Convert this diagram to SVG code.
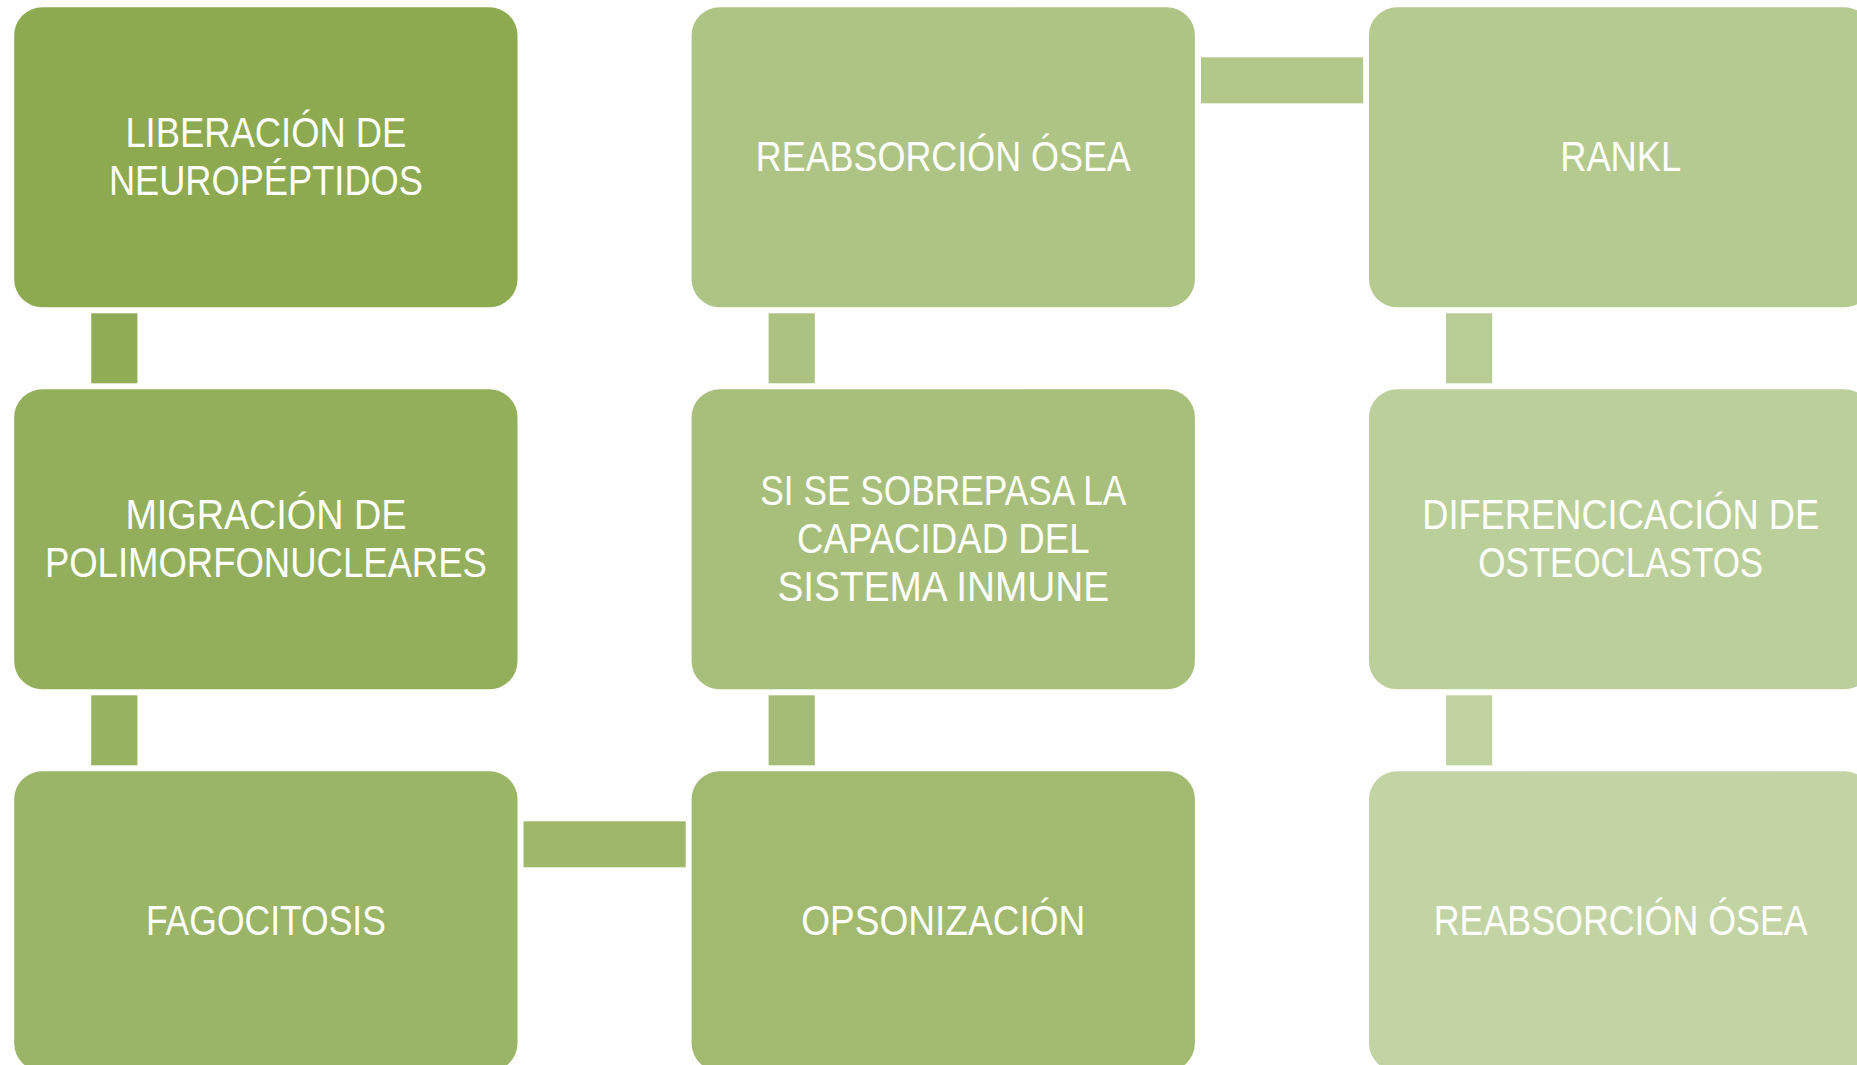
<svg xmlns="http://www.w3.org/2000/svg" width="1857" height="1065" viewBox="0 0 1857 1065">
<style>
.box{stroke:none}
.t{font-family:"Liberation Sans",Arial,sans-serif;font-size:42px;fill:#ffffff;text-anchor:middle}
</style>
<rect width="1857" height="1065" fill="#ffffff"/>
<g id="connectors">
<rect x="91.2" y="313.3" width="46.2" height="70" fill="#90AD56"/>
<rect x="91.2" y="695.3" width="46.2" height="70" fill="#97B261"/>
<rect x="523.5" y="821.3" width="162.2" height="46" fill="#9EB76B"/>
<rect x="768.6" y="695.3" width="46.2" height="70" fill="#A4BC75"/>
<rect x="768.6" y="313.3" width="46.2" height="70" fill="#ABC280"/>
<rect x="1201" y="57.3" width="162.2" height="46" fill="#B2C78A"/>
<rect x="1446" y="313.3" width="46.2" height="70" fill="#B8CC95"/>
<rect x="1446" y="695.3" width="46.2" height="70" fill="#BFD29F"/>
</g>
<g id="n1">
<rect class="box" x="14.2" y="7.3" width="503.3" height="300" rx="28" fill="#8DAA51"/>
<text class="t" x="265.9" y="146.7" textLength="281" lengthAdjust="spacingAndGlyphs">LIBERACIÓN DE</text>
<text class="t" x="265.9" y="195" textLength="314" lengthAdjust="spacingAndGlyphs">NEUROPÉPTIDOS</text>
</g>
<g id="n2">
<rect class="box" x="14.2" y="389.3" width="503.3" height="300" rx="28" fill="#94AF5B"/>
<text class="t" x="265.9" y="528.7" textLength="281" lengthAdjust="spacingAndGlyphs">MIGRACIÓN DE</text>
<text class="t" x="265.9" y="577" textLength="442" lengthAdjust="spacingAndGlyphs">POLIMORFONUCLEARES</text>
</g>
<g id="n3">
<rect class="box" x="14.2" y="771.3" width="503.3" height="300" rx="28" fill="#9AB566"/>
<text class="t" x="265.9" y="935.3" textLength="240" lengthAdjust="spacingAndGlyphs">FAGOCITOSIS</text>
</g>
<g id="n4">
<rect class="box" x="691.6" y="771.3" width="503.3" height="300" rx="28" fill="#A1BA70"/>
<text class="t" x="943.3" y="935.3" textLength="284" lengthAdjust="spacingAndGlyphs">OPSONIZACIÓN</text>
</g>
<g id="n5">
<rect class="box" x="691.6" y="389.3" width="503.3" height="300" rx="28" fill="#A8BF7B"/>
<text class="t" x="943.3" y="504.7" textLength="366" lengthAdjust="spacingAndGlyphs">SI SE SOBREPASA LA</text>
<text class="t" x="943.3" y="553" textLength="292.5" lengthAdjust="spacingAndGlyphs">CAPACIDAD DEL</text>
<text class="t" x="943.3" y="601.3" textLength="331.6" lengthAdjust="spacingAndGlyphs">SISTEMA INMUNE</text>
</g>
<g id="n6">
<rect class="box" x="691.6" y="7.3" width="503.3" height="300" rx="28" fill="#AEC485"/>
<text class="t" x="943.3" y="171.3" textLength="375" lengthAdjust="spacingAndGlyphs">REABSORCIÓN ÓSEA</text>
</g>
<g id="n7">
<rect class="box" x="1369" y="7.3" width="503.3" height="300" rx="28" fill="#B5CA8F"/>
<text class="t" x="1620.7" y="171.3" textLength="121" lengthAdjust="spacingAndGlyphs">RANKL</text>
</g>
<g id="n8">
<rect class="box" x="1369" y="389.3" width="503.3" height="300" rx="28" fill="#BBCF9A"/>
<text class="t" x="1620.7" y="528.7" textLength="397" lengthAdjust="spacingAndGlyphs">DIFERENCICACIÓN DE</text>
<text class="t" x="1620.7" y="577" textLength="285" lengthAdjust="spacingAndGlyphs">OSTEOCLASTOS</text>
</g>
<g id="n9">
<rect class="box" x="1369" y="771.3" width="503.3" height="300" rx="28" fill="#C2D4A4"/>
<text class="t" x="1620.7" y="935.3" textLength="374" lengthAdjust="spacingAndGlyphs">REABSORCIÓN ÓSEA</text>
</g>
</svg>
